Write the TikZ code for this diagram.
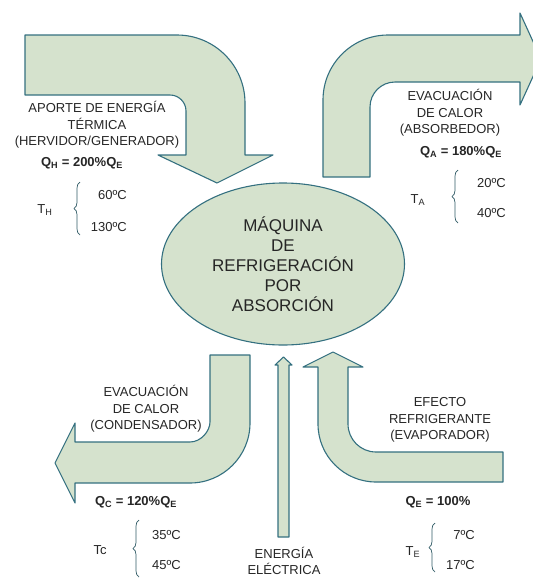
\documentclass[tikz,border=0pt]{standalone}
\usepackage{fontspec}
\setmainfont{Liberation Sans}
\usetikzlibrary{shapes.geometric,decorations.pathreplacing}

\definecolor{sage}{RGB}{213,226,205}
\definecolor{flowline}{RGB}{52,112,128}
\definecolor{ink}{RGB}{38,38,38}

\begin{document}
\begin{tikzpicture}[
  x=1pt,y=-1pt,
  font=\fontsize{13}{16.5}\selectfont,
  flow/.style={draw=flowline,fill=sage,line width=1.1pt,line join=round},
  machine/.style={ellipse,draw=flowline,fill=sage,line width=1.1pt,minimum width=243pt,minimum height=162pt,inner sep=0pt,align=center,text=ink,font=\fontsize{17}{20}\selectfont},
  txt/.style={align=center,text=ink,inner sep=0pt},
  heat/.style={txt,font=\fontsize{13}{15}\selectfont\bfseries},
  cbrace/.style={draw=flowline!70!ink,line width=0.7pt,decorate,decoration={brace,amplitude=6pt}},
]
  \useasboundingbox (0,0) rectangle (533,579);
  \clip (0,0) rectangle (533,579);

  % heat input (generator)
  \draw[flow] (25,35) -- (177,35) .. controls (214.5,35) and (245,65.5) .. (245,103) -- (245,155) -- (273,155) -- (217,183) -- (158,155) -- (186,155) -- (186,111) .. controls (186,102.2) and (178.8,95) .. (170,95) -- (25,95) -- cycle;
  % heat out (absorber)
  \draw[flow] (323,177) -- (323,100) .. controls (323,64.1) and (352.1,35) .. (388,35) -- (520,35) -- (520,13) -- (541,59) -- (520,105) -- (520,82) -- (395,82) .. controls (381.2,82) and (370,93.2) .. (370,107) -- (370,177) -- cycle;
  % heat out (condenser)
  \draw[flow] (210,355) -- (250,355) -- (250,423) .. controls (250,456.1) and (223.1,483) .. (190,483) -- (75,483) -- (75,503) -- (55,463) -- (75,423) -- (75,442) -- (190,442) .. controls (201,442) and (210,431) .. (210,422) -- cycle;
  % cooling effect (evaporator)
  \draw[flow] (503,452) -- (503,482) -- (376,482) .. controls (344,482) and (318,456) .. (318,424) -- (318,367) -- (303,367) -- (333,352) -- (363,367) -- (348,367) -- (348,424) .. controls (348,439.5) and (360.5,452) .. (376,452) -- cycle;
  % electric energy
  \draw[flow] (278,537) -- (278,365) -- (275,365) -- (283.5,357) -- (292,365) -- (289,365) -- (289,537) -- cycle;

  \node[machine] (maquina) at (283,264) {MÁQUINA\\DE\\REFRIGERACIÓN\\POR\\ABSORCIÓN};

  % generator
  \node[txt] (aporte) at (97,125) {APORTE DE ENERGÍA\\TÉRMICA\\(HERVIDOR/GENERADOR)};
  \node[heat] (qh) at (82,163) {Q\textsubscript{H} = 200\%Q\textsubscript{E}};
  \node[txt] (th) at (45,210) {T\textsubscript{H}};
  \node[txt,anchor=east] (th1) at (127,195) {60ºC};
  \node[txt,anchor=east] (th2) at (127,227) {130ºC};
  \draw[cbrace] (80,235) -- (80,182);

  % absorber
  \node[txt] (absorb) at (450,113) {EVACUACIÓN\\DE CALOR\\(ABSORBEDOR)};
  \node[heat] (qa) at (461,152) {Q\textsubscript{A} = 180\%Q\textsubscript{E}};
  \node[txt] (ta) at (418,200) {T\textsubscript{A}};
  \node[txt,anchor=east] (ta1) at (506,183) {20ºC};
  \node[txt,anchor=east] (ta2) at (506,213) {40ºC};
  \draw[cbrace] (458,223) -- (458,170);

  % condenser
  \node[txt] (conden) at (146,409) {EVACUACIÓN\\DE CALOR\\(CONDENSADOR)};
  \node[heat] (qc) at (136,502) {Q\textsubscript{C} = 120\%Q\textsubscript{E}};
  \node[txt] (tc) at (100,550) {Tc};
  \node[txt,anchor=west] (tc1) at (152,535) {35ºC};
  \node[txt,anchor=west] (tc2) at (152,565) {45ºC};
  \draw[cbrace] (139,577) -- (139,520);

  % evaporator
  \node[txt] (evapor) at (440,420) {EFECTO\\REFRIGERANTE\\(EVAPORADOR)};
  \node[heat] (qe) at (438,502) {Q\textsubscript{E} = 100\%};
  \node[txt] (te) at (413,552) {T\textsubscript{E}};
  \node[txt,anchor=east] (te1) at (475,535) {7ºC};
  \node[txt,anchor=east] (te2) at (475,565) {17ºC};
  \draw[cbrace] (435,572) -- (435,523);

  \node[txt] (electrica) at (284,561) {ENERGÍA\\ELÉCTRICA};
\end{tikzpicture}
\end{document}
